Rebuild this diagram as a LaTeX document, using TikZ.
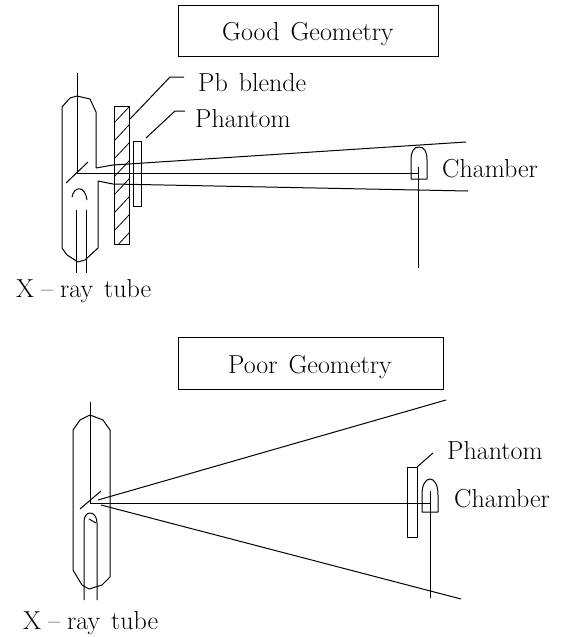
\documentclass[tikz,border=0pt]{standalone}
\usepackage{fontspec}
\setmainfont{Latin Modern Roman}
\tikzset{
  ln/.style={line width=1pt,line join=round},
  thin ln/.style={line width=0.8pt},
  lbl/.style={inner sep=0pt,anchor=base west,font=\fontsize{26}{30}\selectfont},
  titlebox/.style={draw,line width=1pt,fill=none}
}
\newcommand{\wsp}{\hspace{11pt}}
\newcommand{\xraytext}{X\hspace{7pt}--\hspace{7pt}ray\wsp tube}
\begin{document}
\begin{tikzpicture}[x=1pt,y=-1pt]
\useasboundingbox (0,0) rectangle (562,637);
% ---------- Good geometry ----------
\draw[titlebox] (178,5) rectangle (438,56);
\node[lbl] (t1) at (222,40) {Good\wsp Geometry};
% tube
\coordinate (tA) at (96,168);
\coordinate (tB) at (113,165);
\coordinate (tC) at (98,181);
\coordinate (tD) at (113,184);
\draw[ln] (tA) -- (96,112) -- (90,99) -- (77,96) -- (70,98) -- (62,107) -- (62,248) -- (67,255) -- (78,262) -- (85,260) -- (98,248) -- (tC);
\draw[ln] (tA) -- (tB);
\draw[ln] (tC) -- (tD);
\draw[thin ln] (77,73) -- (77,173);
\draw[ln] (88,162) -- (66,183);
\draw[ln] (72,197) .. controls (74,186) and (85,185) .. (87,200);
\draw[thin ln] (76,210) -- (76,273);
\draw[thin ln] (86,210) -- (86,273);
% beam
\coordinate (b1end) at (466,142);
\coordinate (b2end) at (468,191);
\coordinate (src1) at (77,173);
\coordinate (chm1) at (418,173);
\draw[ln] (tB) -- (b1end);
\draw[ln] (tD) -- (b2end);
\draw[ln] (src1) -- (chm1);
% Pb blende
\begin{scope}
\clip (114,106) rectangle (129.5,244);
\foreach \y in {123,141,...,249} \draw[thin ln] (114,\y) -- (144,\y-32);
\end{scope}
\draw[ln] (114,106) rectangle (129.5,244);
% phantom
\draw[ln] (133,141) rectangle (141.5,206);
% leaders
\node[lbl] (pb) at (198,91) {Pb\wsp blende};
\node[lbl] (ph1) at (195,127) {Phantom};
\coordinate (pbk) at (170,77);
\coordinate (pbe) at (184,77);
\coordinate (phk) at (175,111);
\coordinate (phe) at (185,111);
\draw[ln] (130,119) -- (pbk) -- (pbe);
\draw[ln] (146,138) -- (phk) -- (phe);
% chamber
\draw[ln] (411,179) -- (411,160) .. controls (411,151) and (414,147) .. (419,147) .. controls (424,147) and (427,151) .. (427,160) -- (427,179) -- cycle;
\draw[thin ln] (418,167) -- (418,268);
\node[lbl] (ch1) at (442,177) {Chamber};
\node[lbl] (xr1) at (16,297) {\xraytext};
% ---------- Poor geometry ----------
\draw[titlebox] (178,337) rectangle (443,389);
\node[lbl] (t2) at (228,373) {Poor\wsp Geometry};
% tube
\draw[ln] (73,430) -- (80,420) -- (90,415) -- (103,420) -- (110,430) -- (110,577) -- (102,585) -- (89,589) -- (82,585) -- (73,570) -- cycle;
\draw[thin ln] (90,402) -- (90,503);
\draw[ln] (101,491) -- (80,509);
\draw[ln] (84,600) -- (84,522) .. controls (84,516) and (87,513) .. (90,513) .. controls (94,513) and (97,517) .. (97,523) -- (97,600);
\draw[ln] (89,519) -- (96,523);
% beam
\coordinate (s2a) at (98,500);
\coordinate (s2b) at (101,505);
\coordinate (s2c) at (90,503);
\coordinate (e2a) at (446,400);
\coordinate (e2b) at (461,599);
\coordinate (chm2) at (430,503);
\draw[ln] (s2a) -- (e2a);
\draw[ln] (s2b) -- (e2b);
\draw[ln] (s2c) -- (chm2);
% phantom
\draw[ln] (407,467) rectangle (417,537);
\draw[ln] (417,467) -- (433,453);
% chamber
\draw[ln] (422,512) -- (422,495) .. controls (422,484) and (426,479) .. (430,479) .. controls (434,479) and (438,484) .. (438,495) -- (438,512) -- cycle;
\draw[thin ln] (430,491) -- (430,598);
\node[lbl] (ph2) at (447,459) {Phantom};
\node[lbl] (ch2) at (454,507) {Chamber};
\node[lbl] (xr2) at (23,629) {\xraytext};
\end{tikzpicture}
\end{document}
